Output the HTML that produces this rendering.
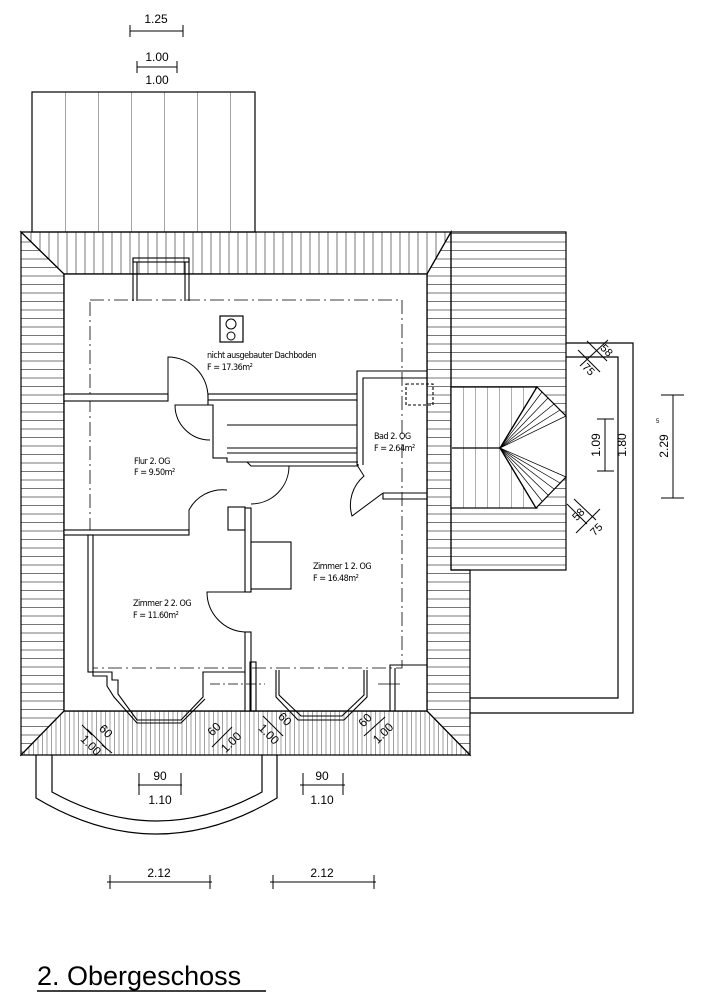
<!DOCTYPE html>
<html><head><meta charset="utf-8"><style>
html,body{margin:0;padding:0;background:#fff;width:702px;height:1000px;overflow:hidden}
svg{display:block}
text{font-family:"Liberation Sans",sans-serif;fill:#000}
.s{font-family:"DejaVu Sans Condensed","Liberation Sans Narrow","Liberation Sans",sans-serif;font-size:9px;letter-spacing:-0.5px}
</style></head><body>
<svg width="702" height="1000" viewBox="0 0 702 1000" xmlns="http://www.w3.org/2000/svg" fill="none" stroke="#000" stroke-width="1">
<defs>
<pattern id="hz" width="10" height="8.5" patternUnits="userSpaceOnUse"><line x1="0" y1="4" x2="10" y2="4" stroke="#555" stroke-width="0.8"/></pattern>
<pattern id="vt" width="9" height="10" patternUnits="userSpaceOnUse"><line x1="4" y1="0" x2="4" y2="10" stroke="#555" stroke-width="0.8"/></pattern>
<pattern id="vf" width="4.5" height="10" patternUnits="userSpaceOnUse"><line x1="2" y1="0" x2="2" y2="10" stroke="#777" stroke-width="0.7"/></pattern>
<pattern id="vw" width="33" height="10" patternUnits="userSpaceOnUse" x="32"><line x1="0" y1="0" x2="0" y2="10" stroke="#333" stroke-width="0.9"/></pattern>
<pattern id="st" width="12" height="10" patternUnits="userSpaceOnUse" x="451"><line x1="0" y1="0" x2="0" y2="10" stroke="#333" stroke-width="0.8"/></pattern>
</defs>

<text x="156" y="23" font-size="12" text-anchor="middle" stroke="none">1.25</text>
<line x1="130" y1="31" x2="183" y2="31"/><line x1="130" y1="25" x2="130" y2="37"/><line x1="183" y1="25" x2="183" y2="37"/>
<text x="157" y="61" font-size="12" text-anchor="middle" stroke="none">1.00</text>
<line x1="137" y1="67" x2="177" y2="67"/><line x1="137" y1="61" x2="137" y2="73"/><line x1="177" y1="61" x2="177" y2="73"/>
<text x="157" y="84" font-size="12" text-anchor="middle" stroke="none">1.00</text>

<rect x="32" y="92" width="223" height="140" fill="url(#vw)" stroke-width="1.2"/>

<rect x="451" y="232" width="115" height="338" fill="url(#hz)" stroke-width="1.2"/>

<polygon points="21,232 451,232 427,274 64,274" fill="url(#vt)" stroke-width="1.2"/>
<polygon points="21,232 64,274 64,711 21,755" fill="url(#hz)" stroke-width="1.2"/>
<polygon points="451,232 451,570 470,570 470,755 427,711 427,274" fill="url(#hz)" stroke-width="1.2"/>
<polygon points="64,711 427,711 470,755 21,755" fill="url(#vf)" stroke-width="1.2"/>
<rect x="64" y="274" width="363" height="437" fill="#fff" stroke-width="1.3"/>

<polyline points="566,343 633,343 633,713 470,713" stroke-width="1.2"/>
<polyline points="566,357 618,357 618,698 470,698" stroke-width="1.2"/>

<rect x="451" y="387" width="86" height="121" fill="#fff" stroke="none"/>
<rect x="451" y="387" width="86" height="121" fill="url(#st)" stroke-width="1.2"/>
<line x1="452" y1="448" x2="500" y2="448" stroke-width="1.2"/>
<polygon points="500,448 537,387 566,416 566,477 536,508" fill="#fff" stroke-width="1.2"/>
<g stroke-width="0.7">
<line x1="500" y1="448" x2="566" y2="416"/><line x1="500" y1="448" x2="566" y2="477"/>
<line x1="500" y1="448" x2="542" y2="392"/><line x1="500" y1="448" x2="548" y2="398"/><line x1="500" y1="448" x2="554" y2="404"/><line x1="500" y1="448" x2="560" y2="410"/>
<line x1="500" y1="448" x2="560" y2="483"/><line x1="500" y1="448" x2="554" y2="489"/><line x1="500" y1="448" x2="548" y2="495"/><line x1="500" y1="448" x2="542" y2="501"/>
</g>
<g stroke-width="1.2"><line x1="500" y1="448" x2="537" y2="387"/><line x1="500" y1="448" x2="536" y2="508"/></g>

<g stroke-width="1">
<line x1="587" y1="341" x2="607" y2="361"/><line x1="578" y1="350" x2="600" y2="372"/>
<line x1="580" y1="366" x2="608" y2="340"/>
<line x1="567" y1="504" x2="587" y2="524"/><line x1="574" y1="499" x2="596" y2="520"/><line x1="576" y1="533" x2="600" y2="509"/>
<line x1="605" y1="419" x2="605" y2="471"/><line x1="597" y1="419" x2="614" y2="419"/><line x1="597" y1="471" x2="614" y2="471"/>
<line x1="673" y1="395" x2="673" y2="498"/><line x1="661" y1="395" x2="684" y2="395"/><line x1="661" y1="498" x2="684" y2="498"/>
</g>
<text x="604" y="353" font-size="11" transform="rotate(45 604 353)" text-anchor="middle" stroke="none">58</text>
<text x="586" y="372" font-size="11" transform="rotate(45 586 372)" text-anchor="middle" stroke="none">75</text>
<text x="581" y="517" font-size="11" transform="rotate(-45 581 517)" text-anchor="middle" stroke="none">58</text>
<text x="599" y="532" font-size="11" transform="rotate(-45 599 532)" text-anchor="middle" stroke="none">75</text>
<text x="600" y="445" font-size="12" transform="rotate(-90 600 445)" text-anchor="middle" stroke="none">1.09</text>
<text x="626" y="445" font-size="12" transform="rotate(-90 626 445)" text-anchor="middle" stroke="none">1.80</text>
<text x="668" y="446" font-size="12" transform="rotate(-90 668 446)" text-anchor="middle" stroke="none">2.29</text>
<text x="656" y="423" font-size="6" stroke="none">5</text>

<rect x="90" y="300" width="312" height="368" stroke-width="0.8" stroke-dasharray="14,4,2,4"/>

<g stroke-width="1.1">
<rect x="133" y="258" width="56" height="4"/>
<line x1="133" y1="258" x2="133" y2="301"/><line x1="137" y1="262" x2="137" y2="301"/>
<line x1="185" y1="262" x2="185" y2="301"/><line x1="189" y1="258" x2="189" y2="301"/>
</g>
<rect x="220" y="316" width="23" height="26" stroke-width="1.2"/>
<circle cx="231" cy="324" r="5"/><circle cx="231" cy="336" r="4"/>
<text x="207" y="358" class="s" stroke="none">nicht ausgebauter Dachboden</text>
<text x="207" y="370" class="s" stroke="none">F = 17.36m²</text>

<g stroke-width="1.1" fill="#fff">
<rect x="64" y="394" width="104" height="7"/>
<rect x="208" y="394" width="149" height="6"/>
<polyline points="208,400 208,405 213,405 213,458 227,458 227,462 247,462" fill="none"/>
<line x1="227" y1="425" x2="357" y2="425"/>
<line x1="227" y1="448" x2="357" y2="448"/><line x1="227" y1="453" x2="357" y2="453"/>
<line x1="213" y1="458" x2="227" y2="458"/>
<polyline points="247,462 251,466 358,466 358,464" fill="none"/>
<line x1="247" y1="462" x2="358" y2="462"/>
<polyline points="357,394 357,371 427,371" fill="none"/><polyline points="363,465 363,378 427,378" fill="none"/>
<line x1="357" y1="400" x2="357" y2="465"/>
<polyline points="383,493 383,499 427,499" fill="none"/><line x1="383" y1="493" x2="427" y2="493"/>
<rect x="406" y="384" width="27" height="21" fill="none" stroke-dasharray="3,2"/>
<rect x="64" y="530" width="125" height="5"/>
<rect x="228" y="507" width="17" height="23" fill="none"/>
<rect x="245" y="508" width="6" height="84"/>
<rect x="245" y="632" width="6" height="79"/>
<rect x="251" y="542" width="40" height="47"/>
<rect x="88" y="535" width="5" height="137"/>
<polyline points="88,672 112,672 112,680 118,680 118,694 137,720 181,720 203,697 203,672 245,672" fill="none"/>
<polyline points="93,672 93,676 107,676 107,686 114,697 137,723 181,723 205,699" fill="none"/>
<polyline points="276,670 276,697 298,720 344,720 367,697 367,670" fill="none"/>
<polyline points="279,670 279,695 301,716 342,716 364,695 364,670" fill="none"/>
<polyline points="390,711 390,665 427,665" fill="none"/><line x1="395" y1="668" x2="395" y2="711"/>
<rect x="250" y="662" width="6" height="49" fill="none"/>
</g>
<line x1="210" y1="684" x2="265" y2="684" stroke-width="0.8" stroke-dasharray="10,3,2,3"/>
<line x1="378" y1="684" x2="400" y2="684" stroke-width="0.8"/>

<g stroke-width="1">
<path d="M168 401 L168 357 A40 40 0 0 1 208 397"/>
<path d="M208 405 L175 405 A35 35 0 0 0 210 440"/>
<path d="M251 466 L289 466 A38 38 0 0 1 251 504"/>
<path d="M189 530 L189 510 A38 38 0 0 1 227 490"/>
<path d="M245 592 L207 592 A40 40 0 0 0 245 632"/>
<path d="M357 465 L364 476 A38 38 0 0 0 352 516 L383 493"/>
</g>

<text x="134" y="464" class="s" stroke="none">Flur 2. OG</text>
<text x="134" y="475" class="s" stroke="none">F = 9.50m²</text>
<text x="374" y="439" class="s" stroke="none">Bad 2. OG</text>
<text x="374" y="451" class="s" stroke="none">F = 2.64m²</text>
<text x="313" y="569" class="s" stroke="none">Zimmer 1 2. OG</text>
<text x="313" y="581" class="s" stroke="none">F = 16.48m²</text>
<text x="133" y="606" class="s" stroke="none">Zimmer 2 2. OG</text>
<text x="133" y="618" class="s" stroke="none">F = 11.60m²</text>

<g stroke-width="1">
<line x1="87" y1="729" x2="107" y2="749"/><line x1="82" y1="725" x2="92" y2="735"/><line x1="102" y1="745" x2="112" y2="753"/>
<line x1="212" y1="747" x2="232" y2="727"/>
<line x1="263" y1="716" x2="283" y2="736"/>
<line x1="364" y1="736" x2="385" y2="717"/>
</g>
<text x="103" y="734" font-size="12" transform="rotate(45 103 734)" text-anchor="middle" stroke="none">60</text>
<text x="88" y="748" font-size="12" transform="rotate(45 88 748)" text-anchor="middle" stroke="none">1.00</text>
<text x="217" y="732" font-size="12" transform="rotate(-45 217 732)" text-anchor="middle" stroke="none">60</text>
<text x="234" y="745" font-size="12" transform="rotate(-45 234 745)" text-anchor="middle" stroke="none">1.00</text>
<text x="282" y="722" font-size="12" transform="rotate(45 282 722)" text-anchor="middle" stroke="none">60</text>
<text x="266" y="737" font-size="12" transform="rotate(45 266 737)" text-anchor="middle" stroke="none">1.00</text>
<text x="368" y="723" font-size="12" transform="rotate(-45 368 723)" text-anchor="middle" stroke="none">60</text>
<text x="386" y="736" font-size="12" transform="rotate(-45 386 736)" text-anchor="middle" stroke="none">1.00</text>

<g stroke-width="1.2">
<path d="M36 755 L36 798 Q156 870 277 798 L277 755"/>
<path d="M52 755 L52 792 Q157 850 262 792 L262 755"/>
</g>

<text x="160" y="780" font-size="12" text-anchor="middle" stroke="none">90</text>
<line x1="138" y1="785" x2="182" y2="785"/><line x1="139" y1="773" x2="139" y2="795"/><line x1="181" y1="773" x2="181" y2="795"/>
<text x="160" y="804" font-size="12" text-anchor="middle" stroke="none">1.10</text>
<text x="322" y="780" font-size="12" text-anchor="middle" stroke="none">90</text>
<line x1="300" y1="785" x2="345" y2="785"/><line x1="303" y1="773" x2="303" y2="795"/><line x1="343" y1="773" x2="343" y2="795"/>
<text x="322" y="804" font-size="12" text-anchor="middle" stroke="none">1.10</text>
<text x="159" y="877" font-size="12" text-anchor="middle" stroke="none">2.12</text>
<line x1="107" y1="882" x2="212" y2="882"/><line x1="110" y1="875" x2="110" y2="889"/><line x1="210" y1="875" x2="210" y2="889"/>
<text x="322" y="877" font-size="12" text-anchor="middle" stroke="none">2.12</text>
<line x1="270" y1="882" x2="376" y2="882"/><line x1="273" y1="875" x2="273" y2="889"/><line x1="374" y1="875" x2="374" y2="889"/>

<text x="37" y="985" font-size="27" stroke="none">2. Obergeschoss</text>
<line x1="37" y1="991" x2="266" y2="991" stroke-width="1.6"/>
</svg>
</body></html>
